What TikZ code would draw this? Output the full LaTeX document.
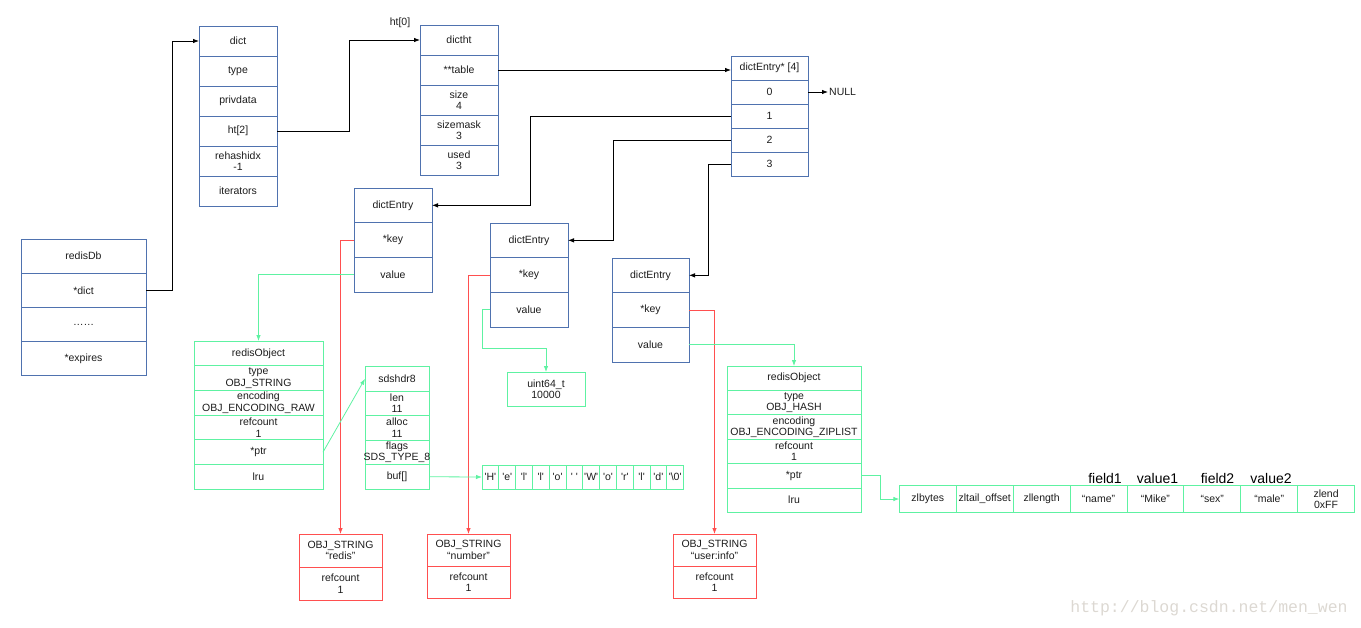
\documentclass[tikz,border=0pt]{standalone}
\usepackage{fontspec}
\setmainfont{Liberation Sans}
\newfontfamily\markfont{Liberation Mono}
\usepackage{tikz}
\usetikzlibrary{arrows.meta,positioning}
\definecolor{RecBlue}{HTML}{4F72AF}
\definecolor{RecGreen}{HTML}{5EF2A2}
\definecolor{RecRed}{HTML}{FF4F4F}
\definecolor{RecInk}{HTML}{1C1C1C}
\definecolor{MarkGray}{HTML}{DCD8D2}
\newcommand{\recfont}{\fontsize{10.5}{11.5}\selectfont}
\tikzset{
  rec/.style={rectangle,inner sep=0pt,outer sep=0pt,align=center,font=\recfont,text=RecInk,line width=0.9pt},
  bluerec/.style={rec,draw=RecBlue},
  greenrec/.style={rec,draw=RecGreen},
  redrec/.style={rec,draw=RecRed},
  ptrarrow/.style={-{Latex[length=6pt,width=4.5pt]},line width=0.8pt,draw=black},
  valarrow/.style={ptrarrow,draw=RecGreen},
  keyarrow/.style={ptrarrow,draw=RecRed},
  fieldlbl/.style={font=\fontsize{14}{14}\selectfont,text=black,anchor=base,inner sep=0pt}
}
\begin{document}
\begin{tikzpicture}[x=1pt,y=-1pt,node distance=0pt]
\useasboundingbox (0,0) rectangle (1361,627);
% redisDb
\begin{scope}[every node/.style={bluerec,minimum width=125,minimum height=34.2}]
\node[anchor=north west] (db0) at (21,239) {redisDb};
\node[below=of db0] (db1) {*dict};
\node[below=of db1] (db2) {……};
\node[below=of db2] (db3) {*expires};
\end{scope}
% dict
\begin{scope}[every node/.style={bluerec,minimum width=78,minimum height=30}]
\node[anchor=north west] (d0) at (199,26) {dict};
\node[below=of d0] (d1) {type};
\node[below=of d1] (d2) {privdata};
\node[below=of d2] (d3) {ht[2]};
\node[below=of d3] (d4) {rehashidx\\-1};
\node[below=of d4] (d5) {iterators};
\node[anchor=north west] (t0) at (420,25) {dictht};
\node[below=of t0] (t1) {**table};
\node[below=of t1] (t2) {size\\4};
\node[below=of t2] (t3) {sizemask\\3};
\node[below=of t3] (t4) {used\\3};
\end{scope}
\node[font=\recfont,text=RecInk,anchor=base,inner sep=0pt] (htlbl) at (400,25.5) {ht[0]};
% dictEntry* table
\begin{scope}[every node/.style={bluerec,minimum width=77,minimum height=24}]
\node[anchor=north west] (a0) at (731,56) {dictEntry* [4]};
\node[below=of a0] (a1) {0};
\node[below=of a1] (a2) {1};
\node[below=of a2] (a3) {2};
\node[below=of a3] (a4) {3};
\end{scope}
\node[font=\recfont,text=RecInk,anchor=west,inner sep=1pt] (null) at (828,92) {NULL};
% dictEntry nodes
\begin{scope}[every node/.style={bluerec,minimum width=78,minimum height=34.7}]
\node[anchor=north west] (ea0) at (354,188) {dictEntry};
\node[below=of ea0] (ea1) {*key};
\node[below=of ea1] (ea2) {value};
\node[anchor=north west] (eb0) at (490,223) {dictEntry};
\node[below=of eb0] (eb1) {*key};
\node[below=of eb1] (eb2) {value};
\node[anchor=north west,minimum width=77] (ec0) at (612,258) {dictEntry};
\node[below=of ec0,minimum width=77] (ec1) {*key};
\node[below=of ec1,minimum width=77] (ec2) {value};
\end{scope}
% redisObject string
\begin{scope}[every node/.style={greenrec,minimum width=129,minimum height=24.7}]
\node[anchor=north west] (oa0) at (194,341) {redisObject};
\node[below=of oa0] (oa1) {type\\OBJ\_STRING};
\node[below=of oa1] (oa2) {encoding\\OBJ\_ENCODING\_RAW};
\node[below=of oa2] (oa3) {refcount\\1};
\node[below=of oa3] (oa4) {*ptr};
\node[below=of oa4] (oa5) {lru};
\end{scope}
\begin{scope}[every node/.style={greenrec,minimum width=64,minimum height=24.5}]
\node[anchor=north west] (s0) at (365,366.5) {sdshdr8};
\node[below=of s0] (s1) {len\\11};
\node[below=of s1] (s2) {alloc\\11};
\node[below=of s2] (s3) {flags\\\makebox[0pt]{SDS\_TYPE\_8}};
\node[below=of s3] (s4) {buf[]};
\end{scope}
\foreach \c [count=\i] in {H,e,l,l,o,{\ },W,o,r,l,d,\textbackslash 0}
  \node[greenrec,minimum width=16.8,minimum height=24] (b\i) at ({473.6+\i*16.8},477) {\textquotesingle\c\textquotesingle};
\node[greenrec,minimum width=78,minimum height=34,anchor=north west] (u) at (507,372) {uint64\_t\\10000};
% redisObject hash
\begin{scope}[every node/.style={greenrec,minimum width=134,minimum height=24.4}]
\node[anchor=north west] (ob0) at (727,366) {redisObject};
\node[below=of ob0] (ob1) {type\\OBJ\_HASH};
\node[below=of ob1] (ob2) {encoding\\OBJ\_ENCODING\_ZIPLIST};
\node[below=of ob2] (ob3) {refcount\\1};
\node[below=of ob3] (ob4) {*ptr};
\node[below=of ob4] (ob5) {lru};
\end{scope}
\foreach \c [count=\i] in {zlbytes,zltail\_offset,zllength,“name”,“Mike”,“sex”,“male”,{zlend\\0xFF}}
  \node[greenrec,minimum width=56.9,minimum height=26.5] (z\i) at ({870.9+\i*56.9},499) {\c};
\node[fieldlbl] (fl1) at (1105,483) {field1};
\node[fieldlbl] (fl2) at (1157.5,483) {value1};
\node[fieldlbl] (fl3) at (1217.5,483) {field2};
\node[fieldlbl] (fl4) at (1271,483) {value2};
% key strings
\begin{scope}[every node/.style={redrec,minimum width=83,minimum height=33}]
\node[anchor=north west] (ra0) at (299,534) {OBJ\_STRING\\“redis”};
\node[below=of ra0] (ra1) {refcount\\1};
\node[anchor=north west,minimum height=32] (rb0) at (427,534) {OBJ\_STRING\\“number”};
\node[below=of rb0,minimum height=32] (rb1) {refcount\\1};
\node[anchor=north west,minimum height=32] (rc0) at (673,534) {OBJ\_STRING\\“user:info”};
\node[below=of rc0,minimum height=32] (rc1) {refcount\\1};
\end{scope}
\node[font=\markfont\fontsize{16.5}{16.5}\selectfont,text=MarkGray,anchor=base,inner sep=0pt] (mark) at (1209,612) {http://blog.csdn.net/men\_wen};
% pointers
\draw[ptrarrow] (db1.east) -- ++(26,0) |- (d0.west);
\draw[ptrarrow] (d3.east) -- ++(72,0) |- (t0.west);
\draw[ptrarrow] (t1.east) -- (t1.east -| a0.west);
\draw[ptrarrow] (a1.east) -- (null.west);
\draw[ptrarrow] (a2.west) -- ++(-201,0) |- (ea0.east);
\draw[ptrarrow] (a3.west) -- ++(-118,0) |- (eb0.east);
\draw[ptrarrow] (a4.west) -- ++(-23,0) |- (ec0.east);
\draw[keyarrow] (ea1.west) -| (ra0.north);
\draw[keyarrow] (eb1.west) -| (rb0.north);
\draw[keyarrow] (ec1.east) -| (rc0.north);
\draw[valarrow] (ea2.west) -| (oa0.north);
\draw[valarrow] (eb2.west) -- ++(-8,0) -- ++(0,39) -| (u.north);
\draw[valarrow] (ec2.east) -| (ob0.north);
\draw[valarrow] (oa4.east) -- (s0.west);
\draw[valarrow] (s4.east) -- (b1.west);
\draw[valarrow] (ob4.east) -- ++(19,0) |- (z1.west);
\end{tikzpicture}
\end{document}
